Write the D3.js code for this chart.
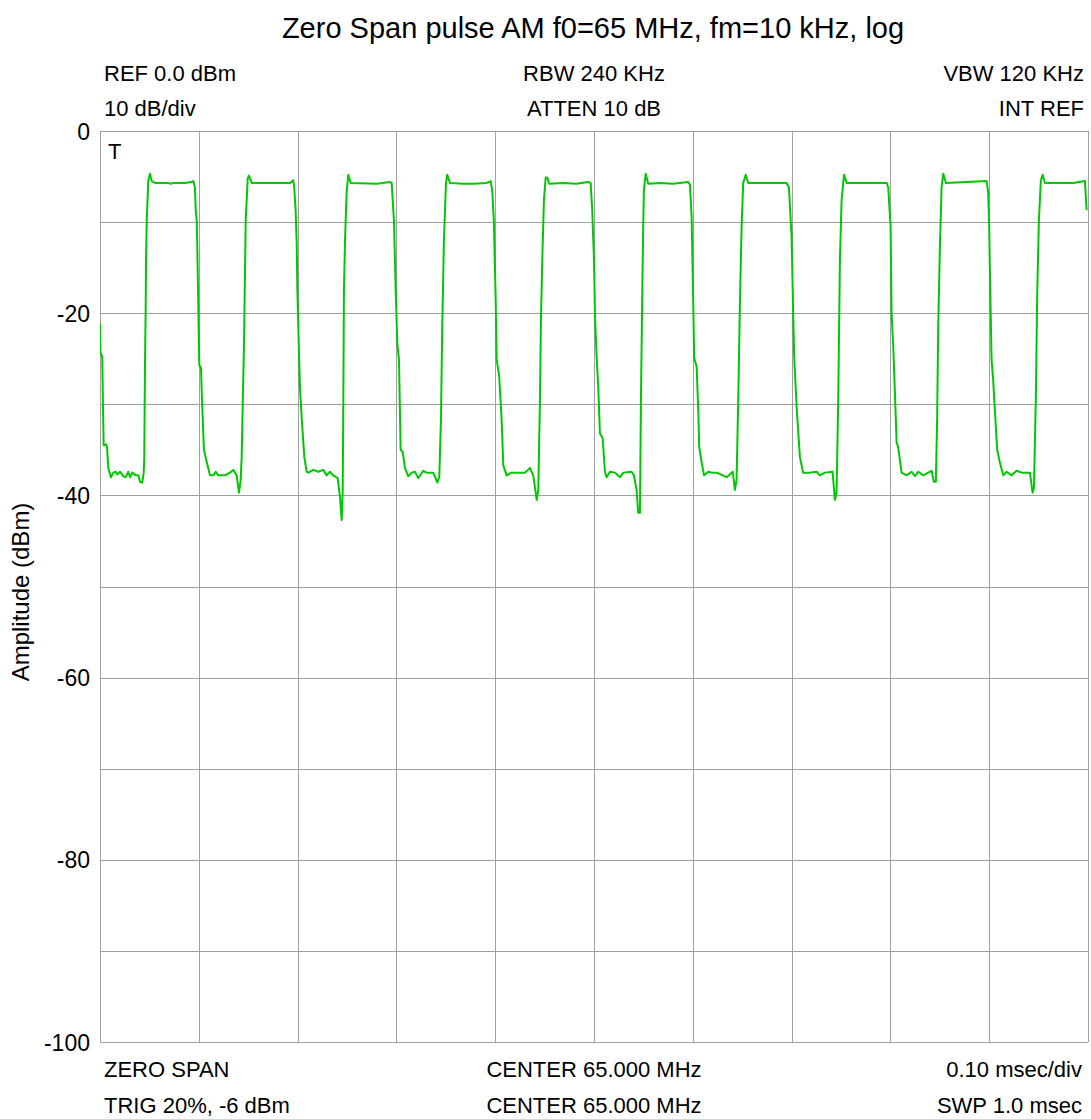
<!DOCTYPE html>
<html>
<head>
<meta charset="utf-8">
<script src="https://cdn.jsdelivr.net/npm/d3@7"></script>
<style>
  html, body { margin: 0; padding: 0; background: #fff; }
  svg { display: block; }
  text { font-family: "Liberation Sans", Arial, sans-serif; fill: #000; }
</style>
</head>
<body>
<svg id="chart" width="1091" height="1119"></svg>
<script>
// ---- data ----
const title = "Zero Span pulse AM f0=65 MHz, fm=10 kHz, log";
const yLabel = "Amplitude (dBm)";
const yTickValues = [0, -20, -40, -60, -80, -100];
const yTickLabels = ["0", "-20", "-40", "-60", "-80", "-100"];
const yGridValues = [0, -10, -20, -30, -40, -50, -60, -70, -80, -90, -100];
const xGridValues = [0, 100, 200, 300, 400, 500, 600, 700, 800, 900, 1000]; // microseconds
const topLeftLabels = ["REF 0.0 dBm", "10 dB/div"];
const topCenterLabels = ["RBW 240 KHz", "ATTEN 10 dB"];
const topRightLabels = ["VBW 120 KHz", "INT REF"];
const bottomLeftLabels = ["ZERO SPAN", "TRIG 20%, -6 dBm"];
const bottomCenterLabels = ["CENTER 65.000 MHz", "CENTER 65.000 MHz"];
const bottomRightLabels = ["0.10 msec/div", "SWP 1.0 msec"];
const markerLabel = "T";

// trace: [time in microseconds, level in dBm]
const trace = [
[0,-21.1],[0.5,-24.3],[2.3,-24.8],[3.0,-30.1],[3.7,-34.5],[6.1,-34.4],[7.1,-34.7],[8.4,-37.0],[11.1,-38.0],[13.5,-37.5],[15.9,-37.4],[17.5,-37.7],[20.2,-37.4],[23.6,-37.9],[26.0,-38.0],[28.6,-37.4],[30.4,-38.0],[32.7,-37.5],[36.1,-37.8],[38.8,-37.8],[40.5,-38.5],[42.8,-38.6],[44.2,-37.5],[44.8,-35.9],[45.5,-26.0],[46.2,-19.9],[46.6,-14.2],[47.3,-9.8],[48.9,-5.4],[50.6,-4.7],[52.3,-5.5],[55.7,-5.7],[62.4,-5.7],[69.1,-5.7],[71.9,-5.8],[74.2,-5.7],[86.0,-5.7],[92.8,-5.6],[94.4,-5.5],[96.1,-6.2],[96.9,-8.7],[97.9,-9.8],[98.5,-12.8],[99.5,-19.3],
[100.5,-25.7],[102.2,-26.0],[103.5,-30.3],[105.2,-35.0],[108.0,-36.3],[111.3,-37.8],[114.7,-37.8],[117.1,-37.4],[119.7,-37.8],[126.5,-37.8],[131.6,-37.5],[134.9,-37.2],[138.3,-37.8],[140.7,-39.7],[142.4,-38.3],[143.4,-35.8],[144.4,-30.3],[145.7,-23.7],[147.5,-9.8],[149.5,-5.2],[150.8,-4.9],[153.5,-5.7],[192.3,-5.7],[195.6,-5.4],[196.6,-6.2],[198.0,-8.7],[199.1,-12.3],[199.7,-17.1],
[201.4,-24.4],[202.4,-28.1],[204.1,-31.4],[206.8,-35.8],[209.2,-37.4],[210.8,-37.5],[215.9,-37.2],[220.9,-37.4],[226.0,-37.2],[229.4,-37.8],[232.8,-37.4],[236.1,-37.8],[240.6,-38.1],[242.9,-40.2],[244.6,-42.7],[245.6,-39.7],[246.2,-31.4],[246.9,-17.5],[248.0,-12.0],[249.6,-6.8],[251.3,-4.8],[253.7,-5.7],[280.0,-5.8],[293.5,-5.6],[295.2,-5.7],[297.5,-9.8],[299.2,-17.1],
[300.9,-23.3],[302.6,-25.1],[304.3,-35.0],[306.3,-35.2],[308.7,-37.0],[312.0,-37.9],[315.5,-37.5],[318.8,-37.4],[322.1,-38.1],[327.2,-37.3],[330.6,-37.5],[337.3,-37.5],[341.4,-38.6],[343.4,-38.0],[345.1,-31.7],[346.4,-21.5],[348.1,-12.0],[350.2,-5.7],[351.5,-4.8],[354.2,-5.7],[367.7,-5.8],[377.8,-5.8],[391.4,-5.7],[395.4,-5.5],[397.0,-6.5],[398.7,-10.1],
[400.5,-18.6],[401.5,-25.1],[404.1,-27.0],[406.5,-31.7],[408.2,-36.7],[411.6,-37.8],[416.6,-37.5],[430.1,-37.5],[435.2,-37.0],[438.5,-37.8],[442.0,-40.5],[443.6,-39.4],[445.3,-29.5],[446.3,-20.7],[447.6,-14.5],[449.3,-7.6],[451.1,-5.1],[452.7,-5.1],[454.7,-5.8],[468.8,-5.7],[482.4,-5.8],[494.1,-5.6],[496.6,-5.7],[498.2,-8.7],
[500.0,-14.2],[501.0,-20.4],[502.7,-24.8],[504.3,-28.1],[506.0,-33.2],[508.7,-33.7],[511.1,-37.4],[512.8,-38.0],[516.1,-37.4],[521.2,-37.5],[526.3,-38.0],[529.6,-37.5],[538.1,-37.4],[540.4,-37.8],[543.1,-39.4],[544.7,-41.9],[546.5,-41.9],[547.5,-29.5],[549.2,-14.9],[549.8,-10.5],[550.5,-6.5],[552.3,-4.7],[554.9,-5.8],[566.7,-5.7],[580.2,-5.8],[595.4,-5.6],[597.1,-5.9],[598.8,-9.4],
[600.4,-18.6],[601.4,-24.9],[603.9,-25.9],[605.5,-30.6],[606.5,-34.7],[609.0,-36.4],[611.4,-37.8],[615.7,-37.4],[619.1,-37.5],[624.2,-37.5],[634.3,-38.0],[640.4,-37.4],[642.6,-39.4],[644.3,-38.3],[646.0,-29.5],[647.7,-18.9],[649.4,-10.5],[651.0,-5.7],[653.5,-4.8],[656.1,-5.7],[694.9,-5.7],[697.3,-6.2],
[700.0,-11.6],[701.6,-20.0],[702.6,-24.8],[705.1,-30.3],[708.4,-35.8],[711.7,-37.5],[718.5,-37.5],[725.3,-37.4],[728.6,-37.8],[733.7,-37.5],[741.5,-37.4],[743.8,-40.5],[745.5,-39.7],[747.2,-29.5],[748.9,-14.2],[750.6,-7.6],[753.0,-4.8],[755.7,-5.7],[796.2,-5.7],[797.8,-6.2],
[800.2,-10.5],[801.2,-20.0],[802.9,-23.7],[804.6,-28.8],[806.3,-34.2],[807.9,-34.7],[811.3,-37.5],[816.4,-37.8],[821.5,-37.4],[824.8,-37.9],[828.2,-37.4],[833.2,-37.8],[841.7,-37.3],[844.0,-38.5],[846.0,-38.5],[847.3,-31.7],[848.4,-21.5],[850.1,-12.7],[851.8,-6.2],[853.5,-4.7],[856.2,-5.7],[897.4,-5.5],[899.0,-6.8],
[900.0,-10.5],[900.7,-15.3],[902.4,-25.1],[904.0,-27.3],[905.7,-30.6],[908.1,-35.0],[910.8,-36.4],[914.2,-37.8],[917.6,-37.4],[922.7,-37.8],[927.7,-37.3],[932.8,-37.5],[941.2,-37.5],[943.9,-39.7],[945.3,-39.1],[947.3,-28.8],[948.6,-17.8],[950.3,-9.8],[952.3,-5.4],[954.1,-4.8],[956.4,-5.7],[968.2,-5.7],[985.0,-5.7],[996.9,-5.5],[998.6,-8.7]
];

// ---- layout ----
const plot = { left: 100, right: 1088, top: 131, bottom: 1042 };
const gridColor = "#a0a0a0";
const traceColor = "#00c800";

const svg = d3.select("#chart");
const x = d3.scaleLinear().domain([0, 1000]).range([plot.left, plot.right]);
const y = d3.scaleLinear().domain([-100, 0]).range([plot.bottom, plot.top]);

// grid: vertical lines
const xGrid = svg.append("g")
  .attr("transform", `translate(0,${plot.bottom})`)
  .call(d3.axisBottom(x).tickValues(xGridValues).tickSize(-(plot.bottom - plot.top)).tickFormat(""));
xGrid.select(".domain").remove();
xGrid.selectAll("line").attr("stroke", gridColor).attr("stroke-width", 1).attr("shape-rendering", "crispEdges");

// grid: horizontal lines
const yGrid = svg.append("g")
  .attr("transform", `translate(${plot.left},0)`)
  .call(d3.axisLeft(y).tickValues(yGridValues).tickSize(-(plot.right - plot.left)).tickFormat(""));
yGrid.select(".domain").remove();
yGrid.selectAll("line").attr("stroke", gridColor).attr("stroke-width", 1).attr("shape-rendering", "crispEdges");

// y tick labels
const yAxis = svg.append("g")
  .attr("transform", `translate(${plot.left},0)`)
  .call(d3.axisLeft(y).tickValues(yTickValues).tickSize(0).tickPadding(10)
    .tickFormat((d, i) => yTickLabels[i]));
yAxis.select(".domain").remove();
yAxis.selectAll("text")
  .attr("font-family", '"Liberation Sans", Arial, sans-serif')
  .attr("font-size", 23)
  .attr("fill", "#000")
  .attr("dy", "0.35em");

// clip
svg.append("clipPath").attr("id", "clip")
  .append("rect")
  .attr("x", plot.left).attr("y", plot.top - 2)
  .attr("width", plot.right - plot.left).attr("height", plot.bottom - plot.top + 4);

// trace
const line = d3.line().x(d => x(d[0])).y(d => y(d[1]));
svg.append("path")
  .datum(trace)
  .attr("clip-path", "url(#clip)")
  .attr("fill", "none")
  .attr("stroke", traceColor)
  .attr("stroke-width", 2)
  .attr("stroke-linejoin", "round")
  .attr("d", line);

// title
svg.append("text")
  .attr("x", 593)
  .attr("y", 38)
  .attr("text-anchor", "middle")
  .attr("font-size", 29)
  .text(title);

// annotation text
function addLines(labels, xPos, anchor, baselines) {
  labels.forEach((t, i) => {
    svg.append("text")
      .attr("x", xPos)
      .attr("y", baselines[i])
      .attr("text-anchor", anchor)
      .attr("font-size", 22)
      .text(t);
  });
}
const topBaselines = [81, 116];
const bottomBaselines = [1077, 1113];
addLines(topLeftLabels, 104, "start", topBaselines);
addLines(topCenterLabels, (plot.left + plot.right) / 2, "middle", topBaselines);
addLines(topRightLabels, 1084, "end", topBaselines);
addLines(bottomLeftLabels, 104, "start", bottomBaselines);
addLines(bottomCenterLabels, (plot.left + plot.right) / 2, "middle", bottomBaselines);
addLines(bottomRightLabels, 1082, "end", bottomBaselines);

// trigger marker
svg.append("text")
  .attr("x", 108)
  .attr("y", 159)
  .attr("font-size", 22)
  .text(markerLabel);

// y axis label
svg.append("text")
  .attr("transform", `translate(29,${592}) rotate(-90)`)
  .attr("text-anchor", "middle")
  .attr("font-size", 24)
  .text(yLabel);
</script>
</body>
</html>
